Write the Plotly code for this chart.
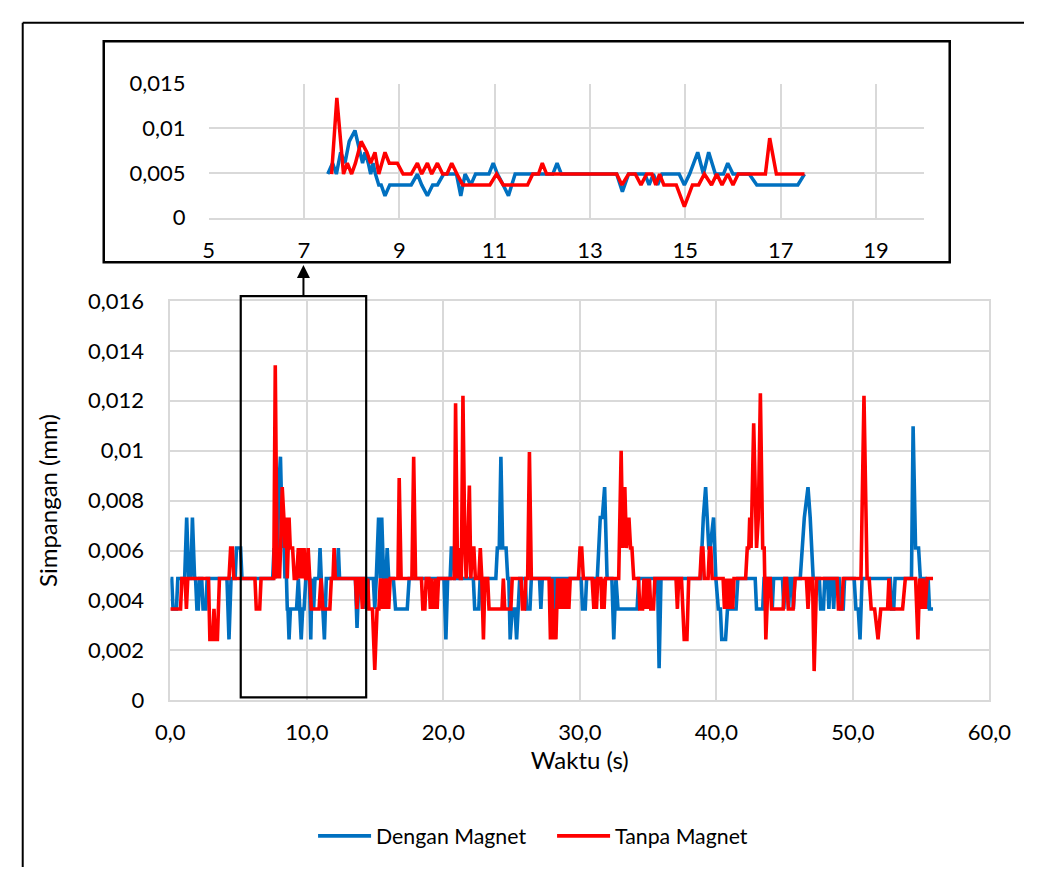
import plotly.graph_objects as go

# ---------------- data (time in s, deviation in mm) ----------------
blue_points = [
    (0.0, .00488), (0.1, .00488), (0.2, .00366), (0.45, .00366), (0.55, .00488), (1.05, .00488),
    (1.2, .00732), (1.35, .00488), (1.5, .00488), (1.62, .00732), (1.78, .00488), (1.85, .00488),
    (1.95, .00366), (2.05, .00366), (2.15, .00488), (2.3, .00488), (2.4, .00366), (2.6, .00366),
    (2.7, .00488), (4.15, .00488), (4.3, .00244), (4.45, .00488), (4.75, .00488), (4.85, .0061),
    (5.15, .0061), (5.25, .00488), (7.5, .00488), (7.6, .0061), (7.68, .00488), (7.77, .00732),
    (7.86, .0061), (7.95, .00854), (8.07, .00976), (8.17, .00732), (8.23, .0061), (8.28, .00732),
    (8.35, .0061), (8.4, .00488), (8.45, .0061), (8.5, .00488), (8.57, .00366), (8.62, .00366),
    (8.7, .00244), (8.8, .00366), (9.25, .00366), (9.38, .00488), (9.47, .00366), (9.59, .00244),
    (9.7, .00366), (9.8, .00366), (9.93, .00488), (10.2, .00488), (10.29, .00244), (10.38, .00488),
    (10.5, .00366), (10.6, .00488), (10.88, .00488), (10.97, .0061), (11.06, .00488), (11.18, .00366),
    (11.29, .00244), (11.43, .00488), (12.22, .00488), (12.31, .0061), (12.4, .00488), (13.56, .00488),
    (13.68, .0029), (13.81, .00488), (14.15, .00488), (14.24, .00366), (14.33, .00488), (14.42, .00366),
    (14.51, .00488), (14.87, .00488), (14.98, .00366), (15.09, .00488), (15.18, .0061), (15.26, .00732),
    (15.38, .00488), (15.49, .00732), (15.63, .00488), (15.8, .00488), (15.89, .0061), (16.0, .00488),
    (16.34, .00488), (16.5, .00366), (17.36, .00366), (17.5, .00488), (20.05, .00488), (20.19, .00244),
    (20.32, .00488), (20.5, .00488), (20.59, .0061), (20.72, .0061), (20.82, .00488), (22.2, .00488),
    (22.3, .00366), (22.6, .00366), (22.7, .00488), (23.85, .00488), (23.96, .0061), (24.1, .0061),
    (24.22, .00976), (24.35, .0061), (24.6, .0061), (24.72, .00488), (24.8, .00488), (24.9, .00244),
    (25.05, .00366), (25.25, .00366), (25.37, .00244), (25.5, .00366), (25.6, .00488), (26.0, .00488),
    (26.1, .00366), (26.35, .00366), (26.45, .00488), (27.05, .00488), (27.15, .00366), (27.25, .00488),
    (28.12, .00488), (28.22, .00366), (28.32, .00488), (30.1, .00488), (30.2, .00366), (30.4, .00366),
    (30.5, .00488), (31.28, .00488), (31.37, .0061), (31.5, .00732), (31.65, .00732), (31.82, .00854),
    (32.0, .00488), (32.35, .00488), (32.49, .00244), (32.65, .00488), (32.8, .00366), (34.2, .00366),
    (34.32, .00488), (35.7, .00488), (35.81, .00128), (35.95, .00488), (38.85, .00488), (38.95, .0061),
    (39.05, .00732), (39.22, .00854), (39.45, .0061), (39.55, .0061), (39.8, .00732), (39.97, .00488),
    (40.15, .00366), (40.3, .00366), (40.4, .00244), (40.68, .00244), (40.82, .00366), (41.45, .00366),
    (41.58, .00488), (42.85, .00488), (42.95, .00366), (43.4, .00366), (43.5, .00488), (44.0, .00488),
    (44.1, .00366), (44.2, .00488), (44.85, .00488), (44.95, .00366), (45.05, .00488), (45.2, .00488),
    (45.3, .00366), (45.4, .00488), (45.55, .00488), (45.65, .00366), (45.75, .00488), (46.15, .00488),
    (46.27, .0061), (46.45, .00732), (46.72, .00854), (46.88, .00732), (47.1, .00488), (47.55, .00488),
    (47.65, .00366), (47.85, .00366), (47.95, .00488), (48.15, .00488), (48.25, .00366), (48.35, .00488),
    (48.5, .00488), (48.6, .00366), (48.7, .00488), (49.0, .00488), (49.1, .00366), (49.3, .00366),
    (49.4, .00488), (50.1, .00488), (50.23, .00366), (50.4, .00366), (50.53, .00244), (50.68, .00488),
    (52.75, .00488), (52.85, .00366), (53.0, .00366), (53.1, .00488), (54.3, .00488), (54.42, .01098),
    (54.6, .0061), (54.82, .0061), (54.95, .00488), (55.3, .00488), (55.42, .00366), (55.52, .00488),
    (55.62, .00366), (55.88, .00366),
]

red_points = [
    (0.0, .00366), (0.75, .00366), (0.85, .00488), (1.08, .00488), (1.18, .00366), (1.28, .00488),
    (2.8, .00488), (2.9, .00244), (3.1, .00244), (3.2, .00366), (3.3, .00244), (3.45, .00244),
    (3.6, .00488), (4.3, .00488), (4.42, .0061), (4.55, .0061), (4.65, .00488), (6.2, .00488),
    (6.3, .00366), (6.55, .00366), (6.65, .00488), (7.58, .00488), (7.69, .01342), (7.83, .00488),
    (7.91, .0061), (8.0, .00488), (8.08, .0061), (8.2, .00854), (8.32, .00732), (8.4, .0061),
    (8.49, .00732), (8.57, .00488), (8.7, .00732), (8.79, .0061), (8.96, .0061), (9.08, .00488),
    (9.25, .00488), (9.38, .0061), (9.47, .00488), (9.59, .0061), (9.68, .00488), (9.8, .0061),
    (9.91, .00488), (10.0, .00488), (10.1, .0061), (10.21, .00488), (10.33, .00366), (10.9, .00366),
    (11.04, .00488), (11.18, .00366), (11.69, .00366), (11.8, .00488), (11.92, .00488), (12.0, .0061),
    (12.09, .00488), (13.56, .00488), (13.67, .00366), (13.81, .00488), (13.95, .00488), (14.07, .00366),
    (14.19, .00488), (14.3, .00488), (14.38, .00366), (14.46, .00488), (14.55, .00366), (14.81, .00366),
    (14.9, .00244), (14.98, .00122), (15.15, .00366), (15.28, .00366), (15.4, .00488), (15.55, .00366),
    (15.66, .00488), (15.77, .00366), (15.89, .00488), (16.0, .00366), (16.11, .00488), (16.68, .00488),
    (16.77, .0089), (16.91, .00488), (17.5, .00488), (17.7, .00488), (17.83, .00976), (17.97, .00488),
    (18.4, .00488),
    (18.5, .00366), (18.65, .00366), (18.75, .00488), (18.95, .00488), (19.05, .00366), (19.15, .00488),
    (19.3, .00366), (19.45, .00488), (19.55, .00366), (19.65, .00488), (20.8, .00488), (20.9, .0119),
    (21.05, .00488), (21.15, .0061), (21.25, .00488), (21.32, .00488), (21.44, .0122), (21.58, .0061),
    (21.68, .00488), (21.78, .0061), (21.91, .0086), (22.02, .00488), (22.12, .0061), (22.24, .0061),
    (22.35, .00488), (22.6, .00488), (22.71, .0061), (22.82, .00488), (22.94, .00244), (23.05, .00488),
    (23.25, .00488), (23.35, .00366), (24.3, .00366), (24.4, .00488), (24.5, .00366), (24.95, .00366),
    (25.05, .00488), (25.7, .00488), (25.8, .00366), (25.95, .00366), (26.05, .00488), (26.18, .00488),
    (26.31, .00995), (26.45, .00488), (27.75, .00488), (27.85, .00244), (27.95, .00488), (28.05, .00244),
    (28.15, .00366), (28.25, .00244), (28.38, .00488), (28.5, .00366), (28.6, .00488), (28.7, .00366),
    (28.85, .00488), (28.95, .00366), (29.05, .00488), (29.2, .00366), (29.3, .00488), (29.9, .00488),
    (30.02, .0061), (30.14, .0061), (30.26, .00488), (30.9, .00488), (31.03, .00366), (31.15, .00488),
    (31.22, .00366), (31.32, .00488), (31.55, .00488), (31.62, .00366), (31.72, .00488), (31.78, .00366),
    (31.88, .00488), (32.85, .00488), (33.03, .01), (33.15, .0061), (33.3, .00854), (33.42, .0061),
    (33.6, .00732), (33.72, .0061), (33.82, .0061), (33.95, .00488), (34.3, .00488), (34.4, .00366),
    (34.6, .00366), (34.7, .00488), (34.8, .00366), (34.9, .00488), (35.0, .00366), (35.1, .00488),
    (35.2, .00366), (35.4, .00366), (35.5, .00488), (37.05, .00488), (37.15, .00366), (37.25, .00488),
    (37.45, .00488), (37.55, .00366), (37.65, .00244), (37.85, .00244), (37.98, .00488), (38.8, .00488),
    (38.92, .0061), (39.02, .0061), (39.12, .00488), (39.4, .00488), (39.5, .0061), (39.6, .0061),
    (39.7, .00488), (40.5, .00488), (40.6, .00366), (40.7, .00488), (40.8, .00366), (40.9, .00488),
    (41.0, .00366), (41.1, .00488), (41.2, .00366), (41.3, .00488), (42.15, .00488), (42.27, .0061),
    (42.38, .0061), (42.45, .00732), (42.55, .0061), (42.74, .0111), (42.86, .00732), (42.95, .0061),
    (43.08, .00732), (43.23, .0123), (43.4, .0061), (43.51, .0061), (43.63, .00244), (43.8, .00488),
    (43.95, .00488), (44.05, .00366), (44.9, .00366), (45.02, .00488), (45.15, .00488), (45.28, .00366),
    (45.63, .00366), (45.78, .00488), (46.6, .00488), (46.72, .00366), (46.85, .00488), (47.05, .00488),
    (47.17, .00117), (47.35, .00488), (48.85, .00488), (48.95, .00366), (49.2, .00366), (49.3, .00488),
    (50.6, .00488), (50.82, .0122), (51.05, .00488), (51.2, .00488), (51.35, .00366), (51.6, .00366),
    (51.85, .00244), (52.05, .00366), (52.55, .00366), (52.65, .00488), (52.78, .00366), (53.65, .00366),
    (53.85, .00488), (54.6, .00488), (54.77, .00244), (54.9, .00488), (55.05, .00366), (55.15, .00488),
    (55.3, .00366), (55.45, .00488), (55.88, .00488),
]

series_names = ["Dengan Magnet", "Tanpa Magnet"]
series_colors = ["#0070C0", "#FF0000"]

main_x_ticks = [0, 10, 20, 30, 40, 50, 60]
main_x_labels = ["0,0", "10,0", "20,0", "30,0", "40,0", "50,0", "60,0"]
main_y_ticks = [0, 0.002, 0.004, 0.006, 0.008, 0.010, 0.012, 0.014, 0.016]
main_y_labels = ["0", "0,002", "0,004", "0,006", "0,008", "0,01", "0,012", "0,014", "0,016"]
inset_x_ticks = [5, 7, 9, 11, 13, 15, 17, 19]
inset_y_ticks = [0, 0.005, 0.010, 0.015]
inset_y_labels = ["0", "0,005", "0,01", "0,015"]
inset_window = (7.5, 17.5)
zoom_box = (5.16, 14.35)

W, H = 1046, 880
FONT = "Lato"
GRID = "#D9D9D9"


def px(x):
    return x / W


def py(y):
    return 1 - y / H


fig = go.Figure()

for pts, name, col in zip([blue_points, red_points], series_names, series_colors):
    t = [p[0] for p in pts]
    v = [p[1] for p in pts]
    fig.add_trace(go.Scatter(x=t, y=v, mode="lines", name=name,
                             line=dict(color=col, width=3.6), xaxis="x", yaxis="y"))
    ti = [p[0] for p in pts if inset_window[0] <= p[0] <= inset_window[1]]
    vi = [p[1] for p in pts if inset_window[0] <= p[0] <= inset_window[1]]
    fig.add_trace(go.Scatter(x=ti, y=vi, mode="lines", name=name, showlegend=False,
                             line=dict(color=col, width=3.5), xaxis="x2", yaxis="y2"))

tickfont = dict(family=FONT, size=22, color="#000000")

fig.update_layout(
    width=W, height=H,
    margin=dict(l=0, r=0, t=0, b=0),
    paper_bgcolor="white", plot_bgcolor="white",
    font=dict(family=FONT, size=22, color="#000000"),
    showlegend=True,
    legend=dict(orientation="h", x=px(309), xanchor="left", y=py(848), yanchor="middle",
                font=dict(family=FONT, size=21.3, color="#000000"), itemwidth=53,
                entrywidth=171, tracegroupgap=0, bgcolor="rgba(0,0,0,0)"),
    xaxis=dict(domain=[px(161), px(1010)], range=[0, 60], tickvals=main_x_ticks,
               ticktext=main_x_labels, showgrid=True, gridcolor=GRID, gridwidth=1.5,
               zeroline=False, showline=True, linecolor=GRID, linewidth=1.5, mirror=True,
               tickfont=tickfont, ticks="", ticklabelstandoff=12,
               title=dict(text="Waktu (s)", font=dict(family=FONT, size=24), standoff=8),
               anchor="y"),
    yaxis=dict(domain=[py(708), py(296)], range=[0, 0.016], tickvals=main_y_ticks,
               ticktext=main_y_labels, showgrid=True, gridcolor=GRID, gridwidth=1.5,
               zeroline=False, showline=True, linecolor=GRID, linewidth=1.5, mirror=True,
               tickfont=tickfont, ticks="", ticklabelstandoff=20,
               title=dict(text="Simpangan (mm)", font=dict(family=FONT, size=24), standoff=24),
               anchor="x"),
    xaxis2=dict(domain=[px(200.7), px(942)], range=[5, 20], tickvals=inset_x_ticks,
                showgrid=True, gridcolor=GRID, gridwidth=1.5, zeroline=False,
                showline=True, linecolor=GRID, linewidth=1.5,
                tickfont=tickfont, ticks="", ticklabelstandoff=12, anchor="y2"),
    yaxis2=dict(domain=[py(210), py(72)], range=[0, 0.015], tickvals=inset_y_ticks,
                ticktext=inset_y_labels, showgrid=True, gridcolor=GRID, gridwidth=1.5,
                zeroline=False, showline=False,
                tickfont=tickfont, ticks="", ticklabelstandoff=22, anchor="x2"),
)

shapes = [
    # outer frame (top and left edges)
    dict(type="line", xref="paper", yref="paper", x0=px(8), x1=1.0, y0=py(9), y1=py(9),
         line=dict(color="#000000", width=2)),
    dict(type="line", xref="paper", yref="paper", x0=px(8), x1=px(8), y0=py(9), y1=0,
         line=dict(color="#000000", width=2)),
    # inset frame
    dict(type="rect", xref="paper", yref="paper", x0=px(92), x1=px(969), y0=py(256), y1=py(28),
         line=dict(color="#000000", width=2.5), fillcolor="rgba(0,0,0,0)"),
    # zoom rectangle in main chart
    dict(type="rect", xref="x", yref="paper", x0=zoom_box[0], x1=zoom_box[1],
         y0=py(705), y1=py(291), line=dict(color="#000000", width=2.2),
         fillcolor="rgba(0,0,0,0)"),
]
fig.update_layout(shapes=shapes)

fig.add_annotation(x=(zoom_box[0] + zoom_box[1]) / 2, xref="x", y=py(259), yref="paper",
                   ax=0, ay=33, axref="pixel", ayref="pixel", showarrow=True,
                   arrowhead=2, arrowsize=1.3, arrowwidth=2, arrowcolor="#000000", text="")

fig.write_html(
    "out.html",
    config={"displayModeBar": False},
    post_script="document.body.style.margin='0';document.body.style.padding='0';"
                "document.body.style.overflow='hidden';",
)
